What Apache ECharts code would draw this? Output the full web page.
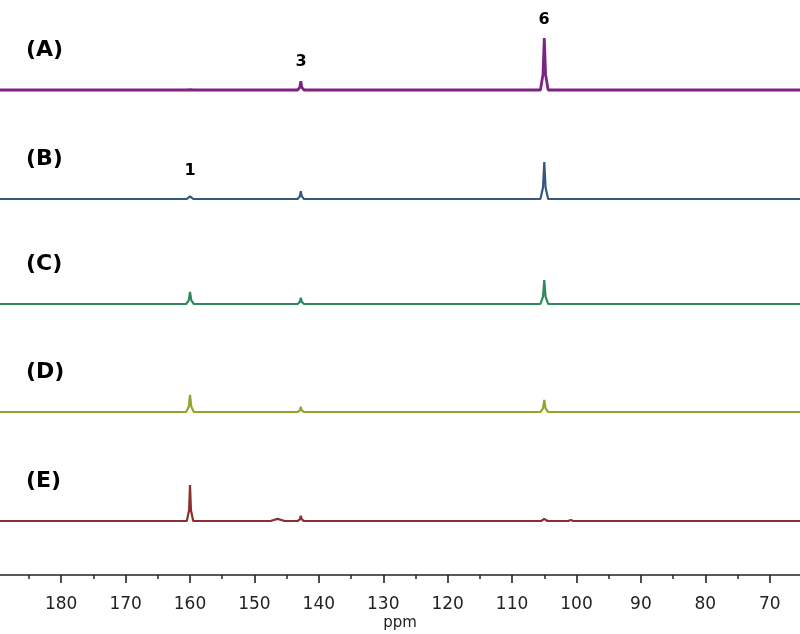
<!DOCTYPE html>
<html lang="en">
<head>
    <meta charset="utf-8">
    <title>NMR spectra</title>
    <script src="https://cdn.jsdelivr.net/npm/echarts@6/dist/echarts.min.js"></script>
    <style>
        body { margin: 0; background: #fff; }
        #main { width: 800px; height: 634px; }
    </style>
</head>
<body>
    <div id="main"></div>
<script>
    // x axis range (ppm, drawn inverted)
    var ppmMin = 65.3, ppmMax = 189.5;
    var tickLabels = [180, 170, 160, 150, 140, 130, 120, 110, 100, 90, 80, 70];
    var minorTicks = [185, 175, 165, 155, 145, 135, 125, 115, 105, 95, 85, 75];

    // spectra: [ppm, intensity] (peak 6 of A = 100)
    var specA = [[190, 0], [160.6, 0], [160, 0.5], [159.4, 0], [143.3, 0], [142.95, 5], [142.8, 17], [142.65, 5], [142.3, 0],
        [105.6, 0], [105.2, 30], [105.0, 100], [104.8, 30], [104.4, 0], [60, 0]];
    var specB = [[190, 0], [160.5, 0], [160, 5], [159.5, 0], [143.3, 0], [142.95, 5], [142.8, 15], [142.65, 5], [142.3, 0],
        [105.6, 0], [105.2, 22], [105.0, 71], [104.8, 22], [104.4, 0], [101.2, 0], [100.9, 1.5], [100.6, 0], [60, 0]];
    var specC = [[190, 0], [160.6, 0], [160.2, 7], [160, 23], [159.8, 7], [159.4, 0], [143.3, 0], [142.95, 4], [142.8, 12], [142.65, 4], [142.3, 0],
        [105.6, 0], [105.2, 14], [105.0, 46], [104.8, 14], [104.4, 0], [60, 0]];
    var specD = [[190, 0], [160.6, 0], [160.2, 10], [160, 33], [159.8, 10], [159.4, 0], [143.3, 0], [142.95, 3], [142.8, 10], [142.65, 3], [142.3, 0],
        [105.6, 0], [105.2, 7], [105.0, 23], [104.8, 7], [104.4, 0], [60, 0]];
    var specE = [[190, 0], [160.5, 0], [160.15, 20], [160, 69], [159.85, 20], [159.5, 0], [147.5, 0], [146.4, 4], [145.3, 0],
        [143.3, 0], [142.95, 3], [142.8, 10], [142.65, 3], [142.3, 0],
        [105.5, 0], [105.0, 4], [104.5, 0], [101.3, 0], [100.9, 2], [100.5, 0], [60, 0]];

    var spectra = [specA, specB, specC, specD, specE];
    var names = ['(A)', '(B)', '(C)', '(D)', '(E)'];
    var colors = ['#7c2385', '#36587c', '#2e8a5c', '#94a42c', '#8a3030'];
    var baselines = [90, 199, 304, 412, 521];
    var peakLabels = [['3', 301, 62], ['6', 544, 20], ['1', 190, 171]];

    var myChart = echarts.init(document.getElementById('main'));

    var grids = [], xAxes = [], yAxes = [], series = [], graphics = [];
    var unitPx = 52; // pixels for intensity 100
    for (var i = 0; i < spectra.length; i++) {
        grids.push({ left: 0, right: 0, top: baselines[i] - unitPx, height: unitPx });
        xAxes.push({ gridIndex: i, type: 'value', inverse: true, min: ppmMin, max: ppmMax, show: false });
        yAxes.push({ gridIndex: i, type: 'value', min: 0, max: 100, show: false });
        series.push({
            type: 'line', xAxisIndex: i, yAxisIndex: i, data: spectra[i],
            showSymbol: false, clip: false, silent: true,
            lineStyle: { color: colors[i], width: i == 0 ? 2.8 : 2.2 }
        });
        graphics.push({
            type: 'text', left: 26, top: baselines[i] - 51,
            style: { text: names[i], font: 'bold 22px "DejaVu Sans"', fill: '#000' }
        });
    }
    // axis grid: major ticks + labels, then a second axis for the minor ticks
    grids.push({ left: 0, right: 0, top: 560, height: 15 });
    xAxes.push({
        gridIndex: 5, type: 'value', inverse: true, min: ppmMin, max: ppmMax,
        position: 'bottom',
        axisLine: { lineStyle: { color: '#222', width: 1.5 } },
        axisTick: { customValues: tickLabels, length: 8, lineStyle: { color: '#222', width: 1.6 } },
        splitLine: { show: false },
        axisLabel: { customValues: tickLabels, margin: 21, fontFamily: 'DejaVu Sans', fontSize: 17, color: '#222' }
    });
    xAxes.push({
        gridIndex: 5, type: 'value', inverse: true, min: ppmMin, max: ppmMax,
        position: 'bottom',
        axisLine: { show: false },
        axisTick: { customValues: minorTicks, length: 4, lineStyle: { color: '#222', width: 1.5 } },
        splitLine: { show: false },
        axisLabel: { show: false }
    });
    yAxes.push({ gridIndex: 5, type: 'value', show: false });

    for (var k = 0; k < peakLabels.length; k++) {
        graphics.push({
            type: 'text', x: peakLabels[k][1], y: peakLabels[k][2],
            style: { text: peakLabels[k][0], font: 'bold 16px "DejaVu Sans"', fill: '#000', align: 'center', verticalAlign: 'middle' }
        });
    }
    graphics.push({
        type: 'text', x: 400, y: 623,
        style: { text: 'ppm', font: '15px "DejaVu Sans"', fill: '#222', align: 'center', verticalAlign: 'middle' }
    });

    myChart.setOption({
        animation: false,
        backgroundColor: '#fff',
        grid: grids,
        xAxis: xAxes,
        yAxis: yAxes,
        series: series,
        graphic: graphics
    });
</script>
</body>
</html>
